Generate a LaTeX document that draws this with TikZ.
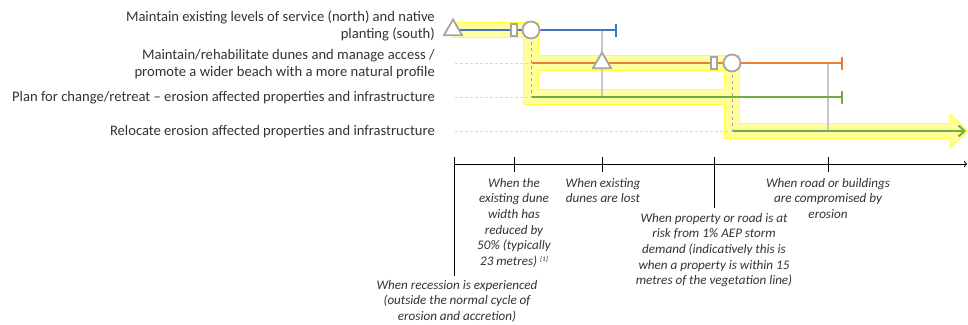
\documentclass[tikz,border=0pt]{standalone}
\usepackage{fontspec}
\setmainfont{Carlito}
\usetikzlibrary{arrows.meta,shapes.geometric}
\definecolor{pathblue}{HTML}{4472C4}
\definecolor{pathorange}{HTML}{ED7D31}
\definecolor{pathgreen}{HTML}{70AD47}
\definecolor{markgray}{HTML}{A5A5A5}
\definecolor{triggergray}{HTML}{C8C8C8}
\definecolor{hlfill}{HTML}{FFFF9E}
\definecolor{hledge}{HTML}{FFFF3C}
\definecolor{labeltext}{HTML}{333333}

\begin{document}
\begin{tikzpicture}[
    x = 1pt, y = -1pt,
    option/.style = {font = \fontsize{14.6}{17}\selectfont, align = right, anchor = east, inner sep = 0pt, text = labeltext},
    trigger/.style = {font = \fontsize{13.1}{15.6}\selectfont\itshape, align = center, anchor = north, inner sep = 0pt, text = labeltext},
    pathline/.style = {line width = 2pt},
    guide/.style = {densely dashed, draw = black!15, line width = 0.6pt},
    switchline/.style = {dashed, draw = markgray, line width = 1pt},
    decision/.style = {draw = triggergray, line width = 1.3pt},
    hledgeline/.style = {draw = hledge, line width = 16.5pt, line join = miter},
    hlfillline/.style = {draw = hlfill, line width = 14.5pt, line join = miter},
    tipmark/.style = {regular polygon, regular polygon sides = 3, draw = markgray, fill = white, line width = 1.8pt, minimum size = 21pt, inner sep = 0pt},
    gatemark/.style = {rectangle, draw = markgray, fill = white, line width = 1.8pt, minimum width = 6pt, minimum height = 12pt, inner sep = 0pt},
    switchmark/.style = {circle, draw = markgray, fill = white, line width = 1.8pt, minimum size = 17pt, inner sep = 0pt}]

\useasboundingbox (0,0) rectangle (968,324);

\coordinate (tri1) at (453,30);  \coordinate (gate1) at (514,30);
\coordinate (sw1) at (531,30);   \coordinate (end1) at (617,30);
\coordinate (start2) at (532,63); \coordinate (tri2) at (602,63);
\coordinate (gate2) at (714,63); \coordinate (sw2) at (732,63);
\coordinate (end2) at (843,63);
\coordinate (start3) at (532,97); \coordinate (end3) at (843,97);
\coordinate (start4) at (733,131); \coordinate (end4) at (966,131);
\coordinate (cut1) at (602,30);  \coordinate (cut2) at (602,97);
\coordinate (cut3) at (828,63);  \coordinate (cut4) at (828,131);
\coordinate (drop1) at (531,97); \coordinate (drop2) at (732,131);
\coordinate (g2) at (455,63); \coordinate (g3) at (455,97); \coordinate (g4) at (455,131);

\coordinate (hl0) at (453,30); \coordinate (hl1) at (531,63);
\coordinate (hl2) at (531,97); \coordinate (hl3) at (732,97);
\coordinate (hl4) at (950,131);

\foreach \hl in {hledgeline, hlfillline}{
  \draw[\hl] (hl0) -- (sw1) -- (hl1) -- (sw2) -- (drop2) -- (hl4);
  \draw[\hl] (hl1) -- (hl2) -- (hl3);
}
\filldraw[fill = hlfill, draw = hledge, line width = 1pt]
  (950,123.5) -- (950,114) -- (968,131) -- (950,148) -- (950,138.5);

\draw[guide] (g2) -- (start2);
\draw[guide] (g3) -- (start3);
\draw[guide] (g4) -- (start4);

\draw[decision] (cut1) -- (cut2);
\draw[decision] (cut3) -- (cut4);
\draw[switchline] (sw1) -- (drop1);
\draw[switchline] (sw2) -- (drop2);

\draw[pathline, pathblue, -{Bar[width = 13pt]}] (tri1) -- (gate1) -- (sw1) -- (end1);
\draw[pathline, pathorange, -{Bar[width = 13pt]}] (start2) -- (tri2) -- (gate2) -- (sw2) -- (end2);
\draw[pathline, pathgreen, -{Bar[width = 13pt]}] (start3) -- (end3);
\draw[pathline, pathgreen, -{Straight Barb[length = 6pt, width = 11pt]}] (start4) -- (end4);

\path (tri1) node[tipmark] (m1) {}
      (gate1) node[gatemark] (m2) {}
      (sw1) node[switchmark] (m3) {}
      (tri2) node[tipmark] (m4) {}
      (gate2) node[gatemark] (m5) {}
      (sw2) node[switchmark] (m6) {};

\path (435,26) node[option] (o1) {Maintain existing levels of service (north) and native\\planting (south)}
      (435,64) node[option] (o2) {Maintain/rehabilitate dunes and manage access /\\promote a wider beach with a more natural profile}
      (435,98) node[option] (o3) {Plan for change/retreat -- erosion affected properties and infrastructure}
      (435,132) node[option] (o4) {Relocate erosion affected properties and infrastructure};

\coordinate (t0) at (454,164); \coordinate (tend) at (967,164);
\coordinate (k0a) at (454,157); \coordinate (k0b) at (454,276);
\coordinate (k1a) at (514,157); \coordinate (k1b) at (514,172);
\coordinate (k2a) at (602,157); \coordinate (k2b) at (602,172);
\coordinate (k3a) at (714,157); \coordinate (k3b) at (714,208);
\coordinate (k4a) at (828,157); \coordinate (k4b) at (828,172);

\draw[line width = 0.9pt, -{To[length = 3pt]}] (t0) -- (tend);
\foreach \k in {0,...,4}
  \draw[line width = 0.9pt] (k\k a) -- (k\k b);

\path (457,280) node[trigger] (w0) {When recession is experienced\\(outside the normal cycle of\\erosion and accretion)}
      (514,178) node[trigger] (w1) {When the\\existing dune\\width has\\reduced by\\50\% (typically\\23 metres) {\fontsize{7}{7}\selectfont\raisebox{3.5pt}{[1]}}}
      (603,178) node[trigger] (w2) {When existing\\dunes are lost}
      (714,213) node[trigger] (w3) {When property or road is at\\risk from 1\% AEP storm\\demand (indicatively this is\\when a property is within 15\\metres of the vegetation line)}
      (828,178) node[trigger] (w4) {When road or buildings\\are compromised by\\erosion};
\end{tikzpicture}
\end{document}
